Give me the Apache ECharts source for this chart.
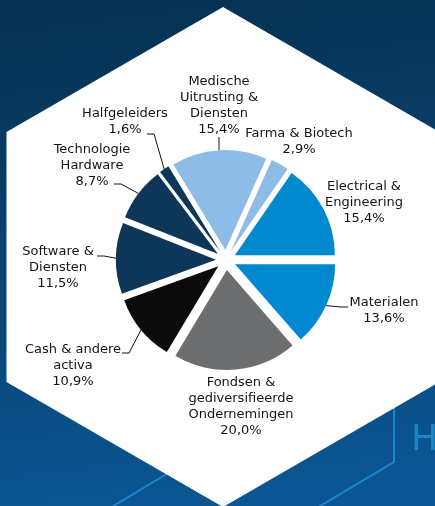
<!DOCTYPE html>
<html>
<head>
<meta charset="utf-8">
<script src="https://cdn.jsdelivr.net/npm/echarts@6/dist/echarts.min.js"></script>
<style>
  html, body { margin: 0; padding: 0; background: #0a3a66; }
  #chart { width: 435px; height: 506px; }
</style>
</head>
<body>
<div id="chart"></div>
<script>
// sector weights, clockwise from 3 o'clock
const sectors = [
  'Materialen',
  'Fondsen &\ngediversifieerde\nOndernemingen',
  'Cash & andere\nactiva',
  'Software &\nDiensten',
  'Technologie\nHardware',
  'Halfgeleiders',
  'Medische\nUitrusting &\nDiensten',
  'Farma & Biotech',
  'Electrical &\nEngineering'
]
const weights = [13.6, 20.0, 10.9, 11.5, 8.7, 1.6, 15.4, 2.9, 15.4]
const sliceColors = ['#0089cf', '#6d6e70', '#0b0b0b', '#0e3658', '#0e3658', '#0e3658', '#8dbde6', '#8dbde6', '#0089cf']

// label block centres and leader-line end points (null = no leader)
const labelPos = [[384, 311], [241, 407], [73, 366], [58, 268], [92, 166], [125, 122], [219, 106], [299, 142], [364, 203]]
const leaderEnd = [[348, 307], null, [122, 353], [97, 256], [114, 184], [147, 134], [219, 137], null, null]

const chart = echarts.init(document.getElementById('chart'), null, { renderer: 'canvas' })

const fmt = v => v.toFixed(1).replace('.', ',') + '%'
const CENTER = [226, 260]
const R = 100
const EXPLODE = 10

const option = {
  animation: false,
  graphic: [
    {
      type: 'rect',
      z: -10,
      shape: { x: 0, y: 0, width: 435, height: 506 },
      style: {
        fill: new echarts.graphic.LinearGradient(0.1, 0, 0.25, 1, [
          { offset: 0, color: '#06304f' },
          { offset: 0.45, color: '#0a416e' },
          { offset: 1, color: '#0a5592' }
        ])
      }
    },
    {
      type: 'polyline',
      z: -9,
      shape: { points: [[394, 405], [394, 462], [300, 518]] },
      style: { stroke: '#1a86cc', lineWidth: 2, fill: null }
    },
    {
      type: 'polyline',
      z: -9,
      shape: { points: [[170, 472], [110, 508]] },
      style: { stroke: '#1a86cc', lineWidth: 2, fill: null }
    },
    {
      type: 'text',
      z: -9,
      style: { text: 'H', x: 411, y: 423, fill: '#1a84c8', font: '36px "DejaVu Sans"' }
    },
    {
      type: 'polygon',
      z: -8,
      shape: { points: [[223, 7], [439.5, 132], [439.5, 382], [223, 507], [6.5, 382], [6.5, 132]] },
      style: { fill: '#ffffff' }
    }
  ],
  series: [
    {
      // exploded slices
      type: 'pie',
      center: CENTER,
      radius: R,
      startAngle: 0,
      clockwise: true,
      selectedMode: 'multiple',
      selectedOffset: EXPLODE,
      silent: true,
      label: { show: false },
      labelLine: { show: false },
      data: sectors.map((name, i) => ({
        name,
        value: weights[i],
        selected: true,
        itemStyle: { color: sliceColors[i] }
      }))
    },
    {
      // invisible twin carrying labels and leader lines
      type: 'pie',
      center: CENTER,
      radius: R + EXPLODE,
      startAngle: 0,
      clockwise: true,
      silent: true,
      itemStyle: { color: 'rgba(0,0,0,0)' },
      label: {
        show: true,
        position: 'outside',
        color: '#141414',
        fontFamily: 'DejaVu Sans',
        fontSize: 13,
        lineHeight: 16,
        align: 'center',
        formatter: p => p.name + '\n' + fmt(p.value)
      },
      labelLine: {
        show: true,
        length: 8,
        length2: 7,
        lineStyle: { color: '#141414', width: 1 }
      },
      labelLayout: params => {
        const i = params.dataIndex
        const [x, y] = labelPos[i]
        const res = { x, y, align: 'center', verticalAlign: 'middle' }
        const end = leaderEnd[i]
        if (end) {
          const start = params.labelLinePoints[0]
          const straight = Math.abs(end[0] - start[0]) < 4
          const bendX = straight ? end[0] : end[0] + (start[0] > end[0] ? 7 : -7)
          res.labelLinePoints = [straight ? [end[0], start[1]] : start, [bendX, end[1]], end]
        }
        return res
      },
      data: sectors.map((name, i) => ({
        name,
        value: weights[i],
        labelLine: { show: leaderEnd[i] !== null }
      }))
    }
  ]
}

chart.setOption(option)
</script>
</body>
</html>
